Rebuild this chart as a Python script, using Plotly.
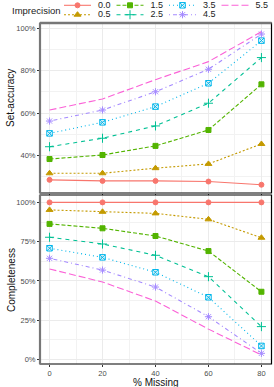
import plotly.graph_objects as go

W, H = 274, 387

pct_missing = [0, 20, 40, 60, 80]
levels = ["0.0", "0.5", "1.5", "2.5", "3.5", "4.5", "5.5"]

set_accuracy = {
    "0.0": [28.6, 28.1, 28.1, 27.8, 26.3],
    "0.5": [31.7, 31.7, 34.1, 36.1, 45.5],
    "1.5": [38.4, 40.3, 44.6, 52.1, 73.6],
    "2.5": [44.2, 48.2, 54.0, 64.7, 86.2],
    "3.5": [50.5, 55.7, 63.1, 74.1, 94.2],
    "4.5": [56.3, 61.5, 70.1, 80.7, 97.3],
    "5.5": [61.5, 66.7, 75.8, 84.3, 98.4],
}
completeness = {
    "0.0": [100, 100, 100, 100, 100],
    "0.5": [95.2, 94.0, 93.0, 89.2, 77.5],
    "1.5": [86.3, 83.5, 78.6, 69.0, 43.1],
    "2.5": [77.8, 73.5, 66.3, 52.7, 20.9],
    "3.5": [70.8, 65.0, 55.5, 39.6, 8.6],
    "4.5": [64.4, 56.9, 46.1, 27.2, 3.9],
    "5.5": [57.6, 49.3, 37.2, 19.3, 2.9],
}

x_ticks = [0, 20, 40, 60, 80]
top_ticks = [40, 60, 80, 100]
top_ticklabels = ["40%", "60%", "80%", "100%"]
bot_ticks = [0, 25, 50, 75, 100]
bot_ticklabels = ["0%", "25%", "50%", "75%", "100%"]

colors = ["#F8766D", "#C49A00", "#53B400", "#00C094", "#00B6EB", "#A58AFF", "#FB61D7"]
symbols = ["circle", "triangle-up", "square", "cross-thin-open", "square-x-open", "asterisk-open", None]
msizes = [5, 6, 5, 6.5, 5.5, 6, 0]
dashes = ["solid", "2px,2px", "4px,2px", "4px,4px", "1px,3px", "1px,3px,4px,3px", "7px,3px"]
FONT = "Liberation Sans, Arial, sans-serif"

fig = go.Figure()

def add_series(vals, xa, ya):
    for i, lv in enumerate(levels):
        sym = symbols[i]
        mode = "lines+markers" if sym else "lines"
        marker = dict(symbol=sym or "circle", size=msizes[i],
                      color=colors[i], line=dict(color=colors[i], width=1.0))
        fig.add_trace(go.Scatter(x=pct_missing, y=vals[lv], mode=mode, xaxis=xa, yaxis=ya,
                                 line=dict(color=colors[i], width=1.1, dash=dashes[i]),
                                 marker=marker, showlegend=False, hoverinfo="skip"))

add_series(set_accuracy, "x", "y")
add_series(completeness, "x2", "y2")

# compact legend laid out from the level index (column-major, 2 rows)
for i, lv in enumerate(levels):
    col, row = i // 2, i % 2
    lx = 98 + 52.5 * col
    ly = 5.3 + 9.4 * row
    fig.add_trace(go.Scatter(x=[lx - 34, lx - 7], y=[ly, ly], mode="lines", xaxis="x3", yaxis="y3",
                             line=dict(color=colors[i], width=1.1, dash=dashes[i]),
                             showlegend=False, hoverinfo="skip"))
    if symbols[i]:
        fig.add_trace(go.Scatter(x=[lx - 20.5], y=[ly], mode="markers", xaxis="x3", yaxis="y3",
                                 marker=dict(symbol=symbols[i], size=msizes[i], color=colors[i],
                                             line=dict(color=colors[i], width=1.0)),
                                 showlegend=False, hoverinfo="skip"))
    fig.add_trace(go.Scatter(x=[lx], y=[ly], mode="text", text=[lv], textposition="middle right",
                             xaxis="x3", yaxis="y3", textfont=dict(size=9, color="#222", family=FONT),
                             showlegend=False, hoverinfo="skip", cliponaxis=False))

xdom = [40 / W, 271.5 / W]
top_dom = [1 - 193 / H, 1 - 23 / H]
bot_dom = [1 - 364 / H, 1 - 195 / H]

grid = dict(showgrid=True, gridcolor="#EBEBEB", gridwidth=0.8, zeroline=False,
            ticks="outside", ticklen=2, tickcolor="#333", tickwidth=0.8,
            tickfont=dict(size=7.5, color="#4D4D4D", family=FONT), automargin=False)

fig.update_layout(
    width=W, height=H, margin=dict(l=0, r=0, t=0, b=0),
    paper_bgcolor="white", plot_bgcolor="white", showlegend=False,
    font=dict(family=FONT),
    xaxis=dict(domain=xdom, range=[-3.6, 83.8], anchor="y", tickvals=x_ticks, showticklabels=False,
               minor=dict(tickvals=[10, 30, 50, 70], showgrid=True, gridcolor="#F2F2F2", gridwidth=0.5, ticks=""),
               **grid),
    yaxis=dict(domain=top_dom, range=[22.4, 102.5], anchor="x", tickvals=top_ticks, ticktext=top_ticklabels,
               minor=dict(tickvals=[30, 50, 70, 90], showgrid=True, gridcolor="#F2F2F2", gridwidth=0.5, ticks=""),
               **grid),
    xaxis2=dict(domain=xdom, range=[-3.6, 83.8], anchor="y2", tickvals=x_ticks,
                minor=dict(tickvals=[10, 30, 50, 70], showgrid=True, gridcolor="#F2F2F2", gridwidth=0.5, ticks=""),
                **grid),
    yaxis2=dict(domain=bot_dom, range=[-2.9, 104.7], anchor="x2", tickvals=bot_ticks, ticktext=bot_ticklabels,
                minor=dict(tickvals=[12.5, 37.5, 62.5, 87.5], showgrid=True, gridcolor="#F2F2F2", gridwidth=0.5, ticks=""),
                **grid),
    xaxis3=dict(domain=[0, 1], range=[0, W], visible=False, fixedrange=True),
    yaxis3=dict(domain=[1 - 23 / H, 1], range=[23, 0], visible=False, fixedrange=True, anchor="x3"),
)

shapes = []
for xr, yr in (("x domain", "y domain"), ("x2 domain", "y2 domain")):
    shapes.append(dict(type="rect", xref=xr, yref=yr, x0=0, x1=1, y0=0, y1=1,
                       line=dict(color="black", width=1.2), layer="above"))
    shapes.append(dict(type="line", xref=xr, yref=yr, x0=0, x1=0, y0=0, y1=1,
                       line=dict(color="#777", width=2.2), layer="above"))
shapes.append(dict(type="line", xref="x domain", yref="y domain", x0=0, x1=1, y0=1, y1=1,
                   line=dict(color="#777", width=2.5), layer="above"))
fig.update_layout(shapes=shapes)

ann = [
    dict(text="Imprecision", x=10 / W, y=1 - 10.5 / H, xanchor="left", yanchor="middle",
         font=dict(size=9.5, color="#222")),
    dict(text="Set-accuracy", x=11 / W, y=1 - 98 / H, textangle=-90, xanchor="center", yanchor="middle",
         font=dict(size=10, color="#111")),
    dict(text="Completeness", x=11 / W, y=1 - 280 / H, textangle=-90, xanchor="center", yanchor="middle",
         font=dict(size=10, color="#111")),
    dict(text="% Missing", x=155.7 / W, y=1 - 382 / H, xanchor="center", yanchor="middle",
         font=dict(size=10, color="#111")),
]
for a in ann:
    a.update(xref="paper", yref="paper", showarrow=False)
fig.update_layout(annotations=ann)

fig.write_html("out.html", config={"displayModeBar": False},
               post_script="document.body.style.margin='0';document.body.style.overflow='hidden';")
